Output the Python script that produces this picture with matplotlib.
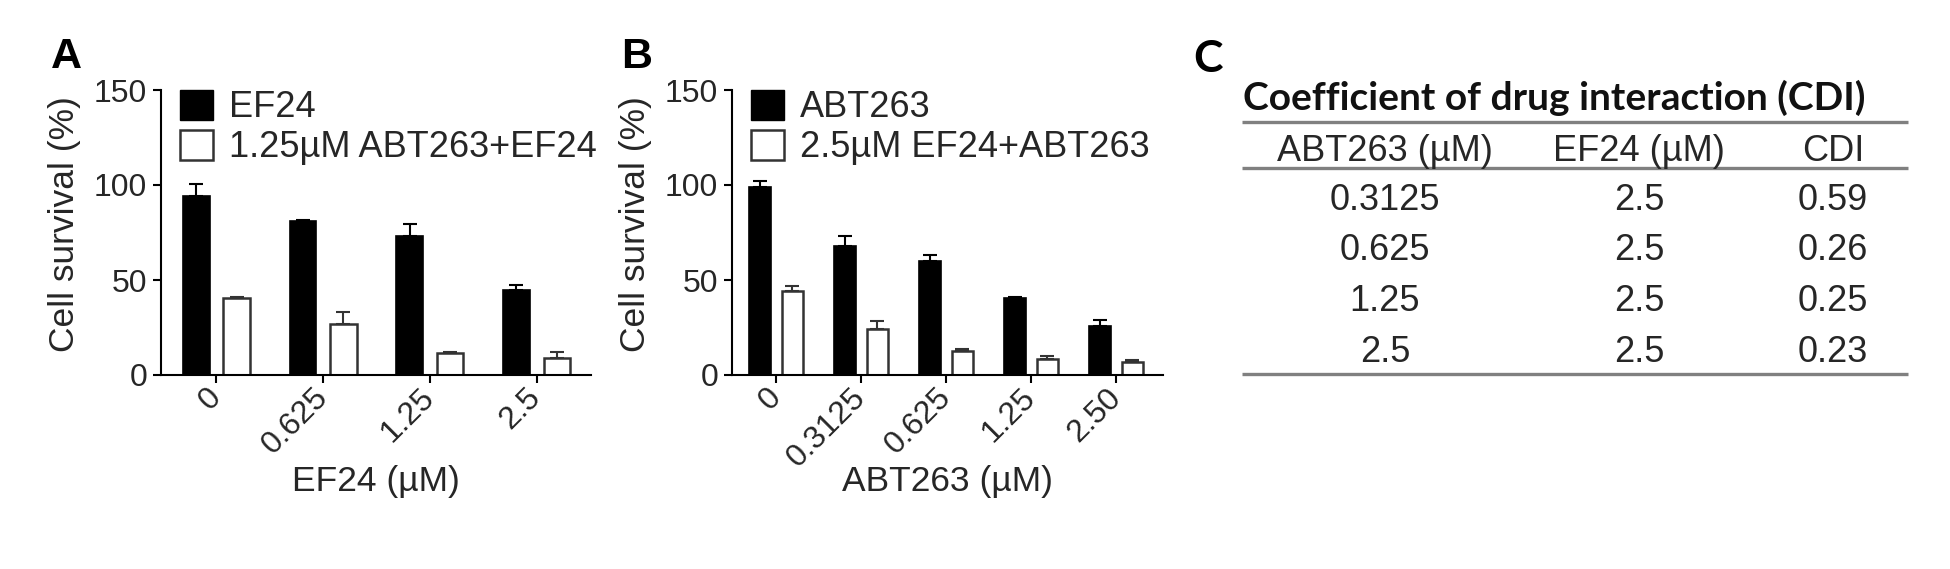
import numpy as np
import matplotlib
matplotlib.use("Agg")
import matplotlib.pyplot as plt
from matplotlib.patches import Patch

plt.rcParams['font.family'] = ['Liberation Sans', 'DejaVu Sans']

# Panel A: EF24 dose, alone and with 1.25 uM ABT263
a_labels = ['0', '0.625', '1.25', '2.5']
a_black = [94, 81, 73, 44.6]
a_black_err = [6.5, 0.8, 6.5, 2.7]
a_white = [40.6, 27.1, 11.5, 8.7]
a_white_err = [0.5, 6.0, 0.5, 3.5]

# Panel B: ABT263 dose, alone and with 2.5 uM EF24
b_labels = ['0', '0.3125', '0.625', '1.25', '2.50']
b_black = [99.2, 67.7, 60.2, 40.6, 25.7]
b_black_err = [2.7, 5.3, 3.2, 0.4, 3.0]
b_white = [44.1, 24.3, 12.6, 8.2, 7.0]
b_white_err = [2.6, 4.1, 0.9, 1.8, 0.9]

# Panel C: CDI table
tbl_title = 'Coefficient of drug interaction (CDI)'
tbl_head = ['ABT263 (µM)', 'EF24 (µM)', 'CDI']
tbl_abt = ['0.3125', '0.625', '1.25', '2.5']
tbl_ef = ['2.5', '2.5', '2.5', '2.5']
tbl_cdi = ['0.59', '0.26', '0.25', '0.23']

W, H = 1950, 569
TXT = '#262626'


def bars(ax, labels, black, black_err, white, white_err, leg, xlabel, xmax):
    x = np.arange(len(labels))
    z = np.zeros(len(labels))
    ax.bar(x - 0.19, black, 0.25, color='black', edgecolor='black', lw=1.2,
           yerr=[z, black_err], capsize=5,
           error_kw=dict(elinewidth=1.5, capthick=1.5, ecolor='black'))
    ax.bar(x + 0.19, white, 0.25, color='white', edgecolor='#333333', lw=1.8,
           yerr=[z, white_err], capsize=5,
           error_kw=dict(elinewidth=1.5, capthick=1.5, ecolor='#333333'))
    ax.set_xlim(-0.52, xmax)
    ax.set_ylim(0, 150)
    ax.set_yticks([0, 50, 100, 150])
    ax.set_xticks(x)
    ax.set_xticklabels(labels, rotation=45, ha='right', va='center',
                       rotation_mode='anchor')
    for s in ['top', 'right']:
        ax.spines[s].set_visible(False)
    for s in ['left', 'bottom']:
        ax.spines[s].set_linewidth(1.5)
    ax.tick_params(length=6, width=1.5, labelsize=23, labelcolor=TXT, pad=4)
    ax.tick_params(axis='x', pad=7)
    ax.set_ylabel('Cell survival (%)', fontsize=25.5, color=TXT)
    ax.yaxis.set_label_coords(-0.185, 0.53)
    ax.set_xlabel(xlabel, fontsize=25.5, color=TXT)
    ax.xaxis.set_label_coords(0.5, -0.315)
    handles = [Patch(facecolor='black', edgecolor='black'),
               Patch(facecolor='white', edgecolor='#333333', lw=1.8)]
    ax.legend(handles, leg, loc='upper left', bbox_to_anchor=(0.045, 1.0),
              frameon=False, fontsize=26, handlelength=0.9, handleheight=0.9,
              handletextpad=0.45, labelspacing=0.12, borderpad=0,
              borderaxespad=0, labelcolor=TXT)


fig = plt.figure(figsize=(W / 100, H / 100), dpi=100)

# overlay in pixel units for table and panel letters
ov = fig.add_axes([0, 0, 1, 1])
ov.set_xlim(0, W)
ov.set_ylim(H, 0)
ov.axis('off')

axA = fig.add_axes([161 / W, 1 - 375 / H, 430 / W, 285 / H])
axB = fig.add_axes([732 / W, 1 - 375 / H, 431 / W, 285 / H])

bars(axA, a_labels, a_black, a_black_err, a_white, a_white_err,
     ['EF24', '1.25µM ABT263+EF24'], 'EF24 (µM)', 3.51)
bars(axB, b_labels, b_black, b_black_err, b_white, b_white_err,
     ['ABT263', '2.5µM EF24+ABT263'], 'ABT263 (µM)', 4.55)

ov.text(51, 68, 'A', fontsize=31, fontweight='bold', color='black')
ov.text(621, 68, 'B', fontsize=31, fontweight='bold', color='black')
ov.text(1193, 72, 'C', fontsize=32, fontweight='bold', color='black',
        family=['Lato', 'DejaVu Sans'])

# table
col_x = [1385, 1639, 1833]
ov.text(1243, 110, tbl_title, fontsize=28, fontweight='bold', color='#111111',
        family=['Lato', 'DejaVu Sans'], va='baseline')
for yy in [122, 168, 374]:
    ov.plot([1242, 1908], [yy, yy], color='#808080', lw=2.4,
            solid_capstyle='butt')
for cx, h in zip(col_x, tbl_head):
    ov.text(cx, 151, h, fontsize=26, color=TXT, ha='center', va='center')
for i, (a, e, c) in enumerate(zip(tbl_abt, tbl_ef, tbl_cdi)):
    yy = 200 + i * 50.7
    for cx, v in zip(col_x, [a, e, c]):
        ov.text(cx, yy, v, fontsize=26, color=TXT, ha='center', va='center')

fig.savefig('out.png', dpi=100, facecolor='white')
